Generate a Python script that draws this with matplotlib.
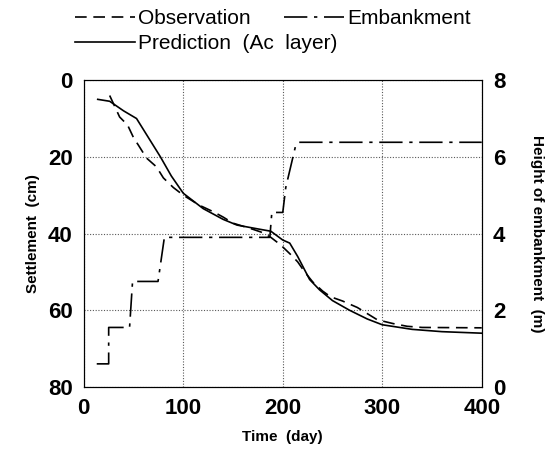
import matplotlib.pyplot as plt
from matplotlib.lines import Line2D

plt.rcParams['font.family'] = ['Liberation Sans', 'DejaVu Sans']

# observation (settlement, cm)
obs_day = [26, 36, 44, 50, 55, 63, 73, 80, 90, 100, 116, 130, 140, 150, 170, 178,
           188, 198, 208, 215, 222, 230, 240, 248, 260, 275, 295, 311, 325, 340, 400]
obs_cm = [4, 9.6, 11.7, 15, 17, 20.3, 22.6, 25.5, 28, 30, 32.6, 34.3, 35.7, 37.3, 38.9, 39.6,
          41, 43, 45.5, 47.4, 50, 52.6, 55, 56.5, 57.6, 59.3, 62.5, 63.5, 64.2, 64.5, 64.6]

# prediction (settlement, cm)
pred_day = [14, 26, 40, 53, 65, 77, 88, 100, 120, 140, 154, 175, 188, 200, 207, 215,
            227, 237, 250, 267, 285, 300, 330, 360, 400]
pred_cm = [5, 5.5, 8, 10, 15, 20, 25, 29.5, 33.5, 36.3, 37.8, 38.8, 39.4, 41.7, 42.5, 46,
           52, 54.7, 57.5, 60, 62.3, 63.8, 65, 65.6, 66]

# embankment height (m)
emb_day = [13, 25, 25, 46, 49, 74.6, 81, 187, 189, 200, 203, 213, 216, 400]
emb_m = [0.6, 0.6, 1.55, 1.55, 2.75, 2.75, 3.9, 3.9, 4.55, 4.55, 5.2, 6.3, 6.38, 6.38]

obs_style = (0, (7, 4))
emb_style = (0, (14, 4, 2, 4))

fig = plt.figure(figsize=(5.55, 4.53), dpi=100)
ax = fig.add_axes([0.151, 0.146, 0.717, 0.677])
ax.plot(obs_day, obs_cm, color='k', lw=1.2, ls=obs_style)
ax.plot(pred_day, pred_cm, color='k', lw=1.2)
ax.set_xlim(0, 400)
ax.set_ylim(80, 0)
ax.set_xticks([0, 100, 200, 300, 400])
ax.set_yticks([0, 20, 40, 60, 80])
ax.grid(True, color='0.35', ls=(0, (1, 1.5)), lw=0.8)
ax.tick_params(length=0, labelsize=16, pad=8)
for lab in ax.get_xticklabels() + ax.get_yticklabels():
    lab.set_fontweight('bold')
ax.set_xlabel('Time  (day)', fontsize=11, fontweight='bold', labelpad=8)
ax.set_ylabel('Settlement  (cm)', fontsize=11, fontweight='bold', labelpad=6)

ax2 = ax.twinx()
ax2.plot(emb_day, emb_m, color='k', lw=1.2, ls=emb_style)
ax2.set_ylim(0, 8)
ax2.set_yticks([0, 2, 4, 6, 8])
ax2.tick_params(length=0, labelsize=16, pad=8)
for lab in ax2.get_yticklabels():
    lab.set_fontweight('bold')
ax2.set_ylabel('Height of embankment  (m)', fontsize=11, fontweight='bold',
               rotation=270, labelpad=28)

# ncol=2 fills column-wise
handles = [Line2D([], [], color='k', lw=1.2, ls=obs_style),
           Line2D([], [], color='k', lw=1.2),
           Line2D([], [], color='k', lw=1.2, ls=emb_style)]
labels = ['Observation', 'Prediction  (Ac  layer)', 'Embankment']
fig.legend(handles, labels, loc='upper left', bbox_to_anchor=(0.135, 0.98), ncol=2,
           frameon=False, fontsize=15, handlelength=2.9, handletextpad=0.15,
           columnspacing=-2.6, labelspacing=0.3, borderpad=0, borderaxespad=0)

fig.savefig('out.png', dpi=100)
